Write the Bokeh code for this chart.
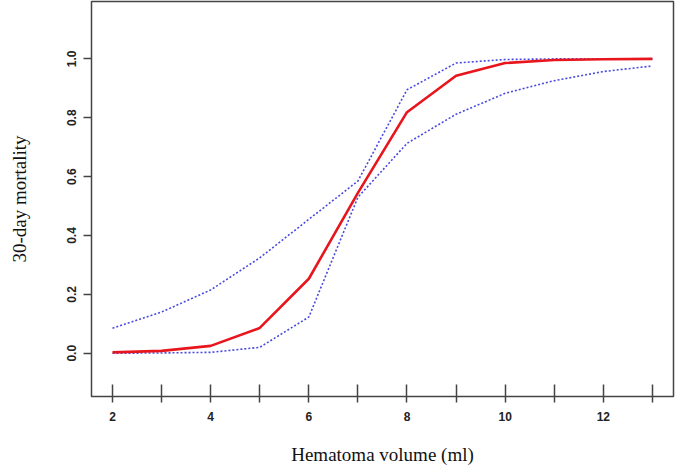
from bokeh.plotting import figure
from bokeh.models import FixedTicker, Range1d
from bokeh.embed import file_html
from bokeh.resources import INLINE

volume = [2, 3, 4, 5, 6, 7, 8, 9, 10, 11, 12, 13]
mortality = [0.003, 0.008, 0.025, 0.086, 0.253, 0.545, 0.819, 0.943, 0.986, 0.996, 0.999, 1.0]
upper_ci = [0.085, 0.140, 0.215, 0.324, 0.455, 0.585, 0.895, 0.986, 0.998, 1.0, 1.0, 1.0]
lower_ci = [0.0, 0.001, 0.003, 0.020, 0.123, 0.530, 0.713, 0.812, 0.883, 0.926, 0.957, 0.976]

x_ticks = [2, 3, 4, 5, 6, 7, 8, 9, 10, 11, 12, 13]
x_tick_labels = {t: (str(t) if t % 2 == 0 else "") for t in x_ticks}
y_ticks = [0.0, 0.2, 0.4, 0.6, 0.8, 1.0]
y_tick_labels = {0.0: "0.0", 0.2: "0.2", 0.4: "0.4", 0.6: "0.6", 0.8: "0.8", 1.0: "1.0"}

p = figure(width=675, height=467, output_backend="svg", toolbar_location=None,
           x_range=Range1d(1.572, 13.43), y_range=Range1d(-0.147, 1.195),
           min_border_left=91, min_border_right=2, min_border_top=1, min_border_bottom=71)
p.grid.visible = False
p.background_fill_color = "white"
p.border_fill_color = "white"
p.outline_line_color = "#444444"
p.outline_line_width = 1.5

p.line(volume, upper_ci, line_color="#4a4ae0", line_width=1.6, line_dash="2 2")
p.line(volume, lower_ci, line_color="#4a4ae0", line_width=1.6, line_dash="2 2")
p.line(volume, mortality, line_color="#e8161c", line_width=2.6)

xa = p.xaxis[0]
xa.ticker = FixedTicker(ticks=x_ticks)
xa.major_label_overrides = x_tick_labels
xa.axis_line_color = None
xa.major_tick_line_color = "#444444"
xa.major_tick_line_width = 1.5
xa.major_tick_in = 12
xa.major_tick_out = 6
xa.minor_tick_line_color = None
xa.major_label_standoff = 9
xa.major_label_text_font = "Liberation Sans"
xa.major_label_text_font_style = "bold"
xa.major_label_text_font_size = "12px"
xa.major_label_text_color = "#222222"
xa.axis_label = "Hematoma volume (ml)"
xa.axis_label_standoff = 20
xa.axis_label_text_font = "Liberation Serif"
xa.axis_label_text_font_style = "normal"
xa.axis_label_text_font_size = "19px"
xa.axis_label_text_color = "#111111"

ya = p.yaxis[0]
ya.ticker = FixedTicker(ticks=y_ticks)
ya.major_label_overrides = y_tick_labels
ya.axis_line_color = None
ya.major_tick_line_color = "#444444"
ya.major_tick_line_width = 1.5
ya.major_tick_in = 0
ya.major_tick_out = 8
ya.minor_tick_line_color = None
ya.major_label_orientation = "vertical"
ya.major_label_standoff = 7
ya.major_label_text_font = "Liberation Sans"
ya.major_label_text_font_style = "bold"
ya.major_label_text_font_size = "12px"
ya.major_label_text_color = "#222222"
ya.axis_label = "30-day mortality"
ya.axis_label_standoff = 35
ya.axis_label_text_font = "Liberation Serif"
ya.axis_label_text_font_style = "normal"
ya.axis_label_text_font_size = "19px"
ya.axis_label_text_color = "#111111"

open("out.html", "w").write(file_html(p, INLINE))
